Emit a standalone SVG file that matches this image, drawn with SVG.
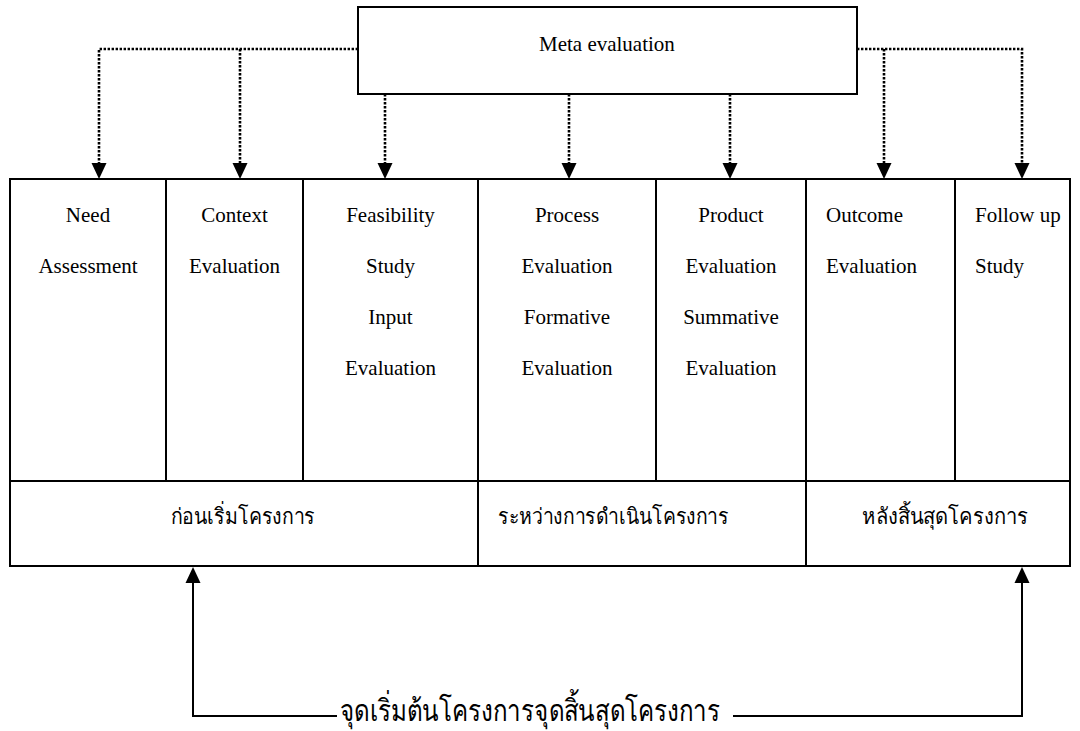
<svg xmlns="http://www.w3.org/2000/svg" width="1080" height="731" viewBox="0 0 1080 731">
<style>
.bg{fill:#ffffff}
.box{fill:#ffffff;stroke:#000000;stroke-width:2}
.dot{fill:none;stroke:#000000;stroke-width:2.6;stroke-dasharray:2.4 1.6}
.solid{fill:none;stroke:#000000;stroke-width:2}
.head{fill:#000000}
.en{font-size:21px;fill:#000000}
.th{font-size:22px;fill:#000000}
.thb{font-size:30px;fill:#000000}
</style>
<rect class="bg" x="0" y="0" width="1080" height="731"/>
<g font-family="'Liberation Serif', 'DejaVu Serif', serif">
<g id="meta">
<rect class="box" x="358" y="7" width="499" height="87"/>
<text class="en" x="539" y="51">Meta evaluation</text>
</g>
<g id="col-need">
<rect class="box" x="10" y="179" width="156" height="302"/>
<text class="en" x="88" y="222" text-anchor="middle">Need</text>
<text class="en" x="88" y="273" text-anchor="middle">Assessment</text>
</g>
<g id="col-context">
<rect class="box" x="166" y="179" width="137" height="302"/>
<text class="en" x="234.5" y="222" text-anchor="middle">Context</text>
<text class="en" x="234.5" y="273" text-anchor="middle">Evaluation</text>
</g>
<g id="col-feasibility">
<rect class="box" x="303" y="179" width="175" height="302"/>
<text class="en" x="390.5" y="222" text-anchor="middle">Feasibility</text>
<text class="en" x="390.5" y="273" text-anchor="middle">Study</text>
<text class="en" x="390.5" y="324" text-anchor="middle">Input</text>
<text class="en" x="390.5" y="375" text-anchor="middle">Evaluation</text>
</g>
<g id="col-process">
<rect class="box" x="478" y="179" width="178" height="302"/>
<text class="en" x="567" y="222" text-anchor="middle">Process</text>
<text class="en" x="567" y="273" text-anchor="middle">Evaluation</text>
<text class="en" x="567" y="324" text-anchor="middle">Formative</text>
<text class="en" x="567" y="375" text-anchor="middle">Evaluation</text>
</g>
<g id="col-product">
<rect class="box" x="656" y="179" width="150" height="302"/>
<text class="en" x="731" y="222" text-anchor="middle">Product</text>
<text class="en" x="731" y="273" text-anchor="middle">Evaluation</text>
<text class="en" x="731" y="324" text-anchor="middle">Summative</text>
<text class="en" x="731" y="375" text-anchor="middle">Evaluation</text>
</g>
<g id="col-outcome">
<rect class="box" x="806" y="179" width="149" height="302"/>
<text class="en" x="826" y="222">Outcome</text>
<text class="en" x="826" y="273">Evaluation</text>
</g>
<g id="col-followup">
<rect class="box" x="955" y="179" width="115" height="302"/>
<text class="en" x="975" y="222">Follow up</text>
<text class="en" x="975" y="273">Study</text>
</g>
<g id="phase-before">
<rect class="box" x="10" y="481" width="468" height="85"/>
<text class="th" x="170.5" y="524" textLength="144.5" lengthAdjust="spacingAndGlyphs">ก่อนเริ่มโครงการ</text>
</g>
<g id="phase-during">
<rect class="box" x="478" y="481" width="328" height="85"/>
<text class="th" x="498" y="524" textLength="230.5" lengthAdjust="spacingAndGlyphs">ระหว่างการดำเนินโครงการ</text>
</g>
<g id="phase-after">
<rect class="box" x="806" y="481" width="264" height="85"/>
<text class="th" x="862" y="524" textLength="166" lengthAdjust="spacingAndGlyphs">หลังสิ้นสุดโครงการ</text>
</g>
<g id="bottom-label">
<text class="thb" x="340" y="721" textLength="380" lengthAdjust="spacingAndGlyphs">จุดเริ่มต้นโครงการจุดสิ้นสุดโครงการ</text>
</g>
</g>
<g id="connectors">
<path class="dot" d="M358 49 H99 V163"/>
<path class="dot" d="M240 49 V163"/>
<path class="dot" d="M385 94 V163"/>
<path class="dot" d="M569 94 V163"/>
<path class="dot" d="M730 94 V163"/>
<path class="dot" d="M857 49 H1022 V163"/>
<path class="dot" d="M884 49 V163"/>
<polygon class="head" points="91.5,163 106.5,163 99,179"/>
<polygon class="head" points="232.5,163 247.5,163 240,179"/>
<polygon class="head" points="377.5,163 392.5,163 385,179"/>
<polygon class="head" points="561.5,163 576.5,163 569,179"/>
<polygon class="head" points="722.5,163 737.5,163 730,179"/>
<polygon class="head" points="876.5,163 891.5,163 884,179"/>
<polygon class="head" points="1014.5,163 1029.5,163 1022,179"/>
<path class="solid" d="M337 716 H193 V582"/>
<path class="solid" d="M733 716 H1022 V582"/>
<polygon class="head" points="185.5,583 200.5,583 193,567"/>
<polygon class="head" points="1014.5,583 1029.5,583 1022,567"/>
</g>
</svg>
